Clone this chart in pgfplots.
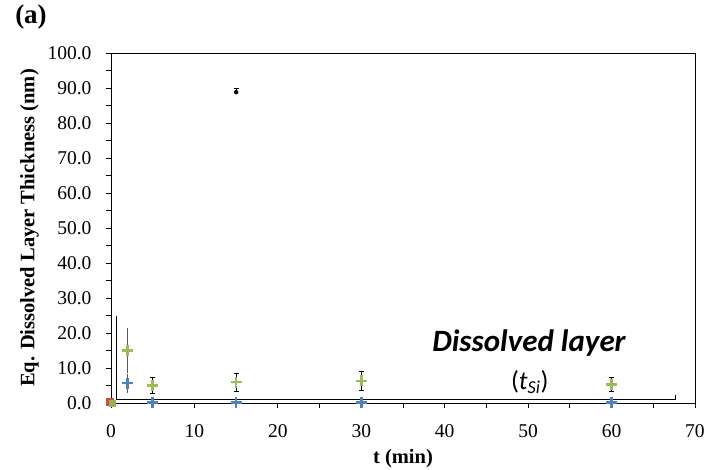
\documentclass[border=0pt]{standalone}
\usepackage{pgfplots}
\pgfplotsset{compat=1.18}
\usepackage{fontspec}
\setmainfont{Liberation Serif}
\newfontfamily\carlito{Carlito}
\definecolor{xlblue}{HTML}{4F81BD}
\definecolor{xlgreen}{HTML}{9BBB59}
\definecolor{xlred}{HTML}{C0504D}
\begin{document}
\begin{tikzpicture}
\useasboundingbox (-111pt,-66pt) rectangle (593pt,403pt);
\begin{axis}[
  scale only axis, width=584pt, height=350pt,
  xmin=0, xmax=70, ymin=0, ymax=100,
  xtick={0,10,...,70}, ytick={0,10,...,100},
  minor xtick={5,15,...,65}, minor ytick={5,15,...,95},
  tick align=outside, tick pos=left,
  major tick length=5pt, minor tick length=5pt,
  tick style={black, line width=0.8pt},
  axis line style={line width=0.8pt},
  clip=false,
  /pgf/number format/assume math mode=true,
  ticklabel style={font=\fontsize{19.5}{21}\selectfont},
  y tick label style={xshift=-11pt, /pgf/number format/.cd, fixed, fixed zerofill, precision=1},
  x tick label style={yshift=-13pt},
  xlabel={\textbf{t (min)}},
  ylabel={\textbf{Eq. Dissolved Layer Thickness (nm)}},
  label style={font=\fontsize{20.5}{22}\selectfont},
  xlabel style={yshift=-5pt},
  ylabel style={yshift=2pt},
]
% blue series
\addplot[only marks, mark=+, mark size=5.5pt, line width=2.6pt, color=xlblue,
  error bars/.cd, y dir=both, y explicit, error mark=none, error bar style={gray!70!black, line width=1.4pt}]
  coordinates {(2,5.7) +- (0,2.7)};
\addplot[only marks, mark=+, mark size=5.5pt, line width=2.6pt, color=xlblue]
  coordinates {(5,0.2) (15,0.2) (30,0.2) (60,0.2)};
% green series
\addplot[only marks, mark=+, mark size=5.5pt, line width=2.6pt, color=xlgreen,
  error bars/.cd, y dir=both, y explicit, error mark=none, error bar style={gray!70!black, line width=1.4pt}]
  coordinates {(2,15) +- (0,6.3)};
\addplot[only marks, mark=+, mark size=5.5pt, line width=2.6pt, color=xlgreen,
  error bars/.cd, y dir=both, y explicit, error bar style={black, line width=0.7pt}, error mark options={rotate=90, mark size=2.5pt, black, line width=0.7pt}]
  coordinates {(5,5) +- (0,2.2) (15,6) +- (0,2.6) (30,6.3) +- (0,2.8) (60,5.3) +- (0,2.0)};
% red series
\addplot[only marks, mark=square*, mark size=3.5pt, color=xlred]
  coordinates {(-0.2,0.4)};
\addplot[only marks, mark=square*, mark size=3pt, color=xlgreen!70!brown]
  coordinates {(0.1,0)};
% stray error cap
\addplot[only marks, mark=none,
  error bars/.cd, y dir=plus, y explicit, error bar style={black, line width=0.8pt}, error mark options={rotate=90, mark size=2.5pt, black, line width=0.8pt}]
  coordinates {(15,88.8) +- (0,1.0)};
% bracket annotation
\draw[line width=0.8pt] (axis cs:0.6,25) -- (axis cs:0.6,0.9) -- (axis cs:67.6,0.9) -- (axis cs:67.6,2.3);
\node[font=\carlito\bfseries\itshape\fontsize{31}{33}\selectfont] at (axis cs:50.1,17.1) {Dissolved layer};
\node[font=\carlito\fontsize{26}{28}\selectfont] at (axis cs:50.2,6.0) {(\textit{t}\textsubscript{\textit{Si}})};
\end{axis}
\node[font=\bfseries\fontsize{27}{29}\selectfont] at (-80pt,386pt) {(a)};
\end{tikzpicture}
\end{document}
